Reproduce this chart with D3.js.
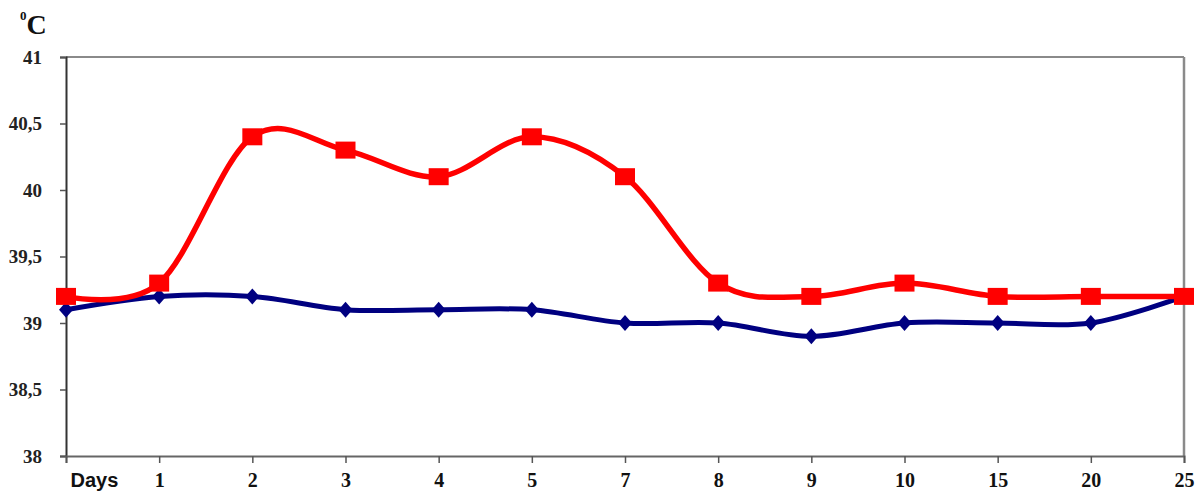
<!DOCTYPE html>
<html><head><meta charset="utf-8">
<script src="https://cdn.jsdelivr.net/npm/d3@7"></script>
<style>body{margin:0;background:#fff}svg{display:block}</style>
</head><body>
<svg id="c" width="1200" height="494"></svg>
<script>
const categories = ["Days","1","2","3","4","5","7","8","9","10","15","20","25"];
const redValues = [39.2,39.3,40.4,40.3,40.1,40.4,40.1,39.3,39.2,39.3,39.2,39.2,39.2];
const blueValues = [39.1,39.2,39.2,39.1,39.1,39.1,39.0,39.0,38.9,39.0,39.0,39.0,39.2];
const yTicks = [38,38.5,39,39.5,40,40.5,41];
const yTickLabels = ["38","38,5","39","39,5","40","40,5","41"];

const svg = d3.select("#c");
const L=66,R=1184,T=57,B=456;
const x = d3.scalePoint().domain(categories).range([L,R]).padding(0);
const y = d3.scaleLinear().domain([38,41]).range([B,T]);

// frame
svg.append("line").attr("x1",L).attr("x2",R).attr("y1",T).attr("y2",T).attr("stroke","#8a8a8a").attr("stroke-width",2);
svg.append("line").attr("x1",R).attr("x2",R).attr("y1",T).attr("y2",B).attr("stroke","#8a8a8a").attr("stroke-width",2.5);

// y axis
const ya = svg.append("g").attr("transform",`translate(${L},0)`)
  .call(d3.axisLeft(y).tickValues(yTicks).tickFormat((d,i)=>yTickLabels[i]).tickSize(6).tickPadding(18));
ya.select(".domain").attr("stroke","#333").attr("stroke-width",2);
ya.selectAll(".tick line").attr("stroke","#555").attr("stroke-width",1.5);
ya.selectAll("text").attr("font-family","Liberation Serif, Times New Roman, serif").attr("font-weight","bold").attr("font-size",19).attr("fill","#222");

// x axis
const xa = svg.append("g").attr("transform",`translate(0,${B})`)
  .call(d3.axisBottom(x).tickSize(7).tickPadding(10));
xa.select(".domain").attr("stroke","#666").attr("stroke-width",2);
xa.selectAll(".tick line").attr("stroke","#555").attr("stroke-width",1.5);
xa.selectAll("text").attr("font-family","Liberation Serif, Times New Roman, serif").attr("font-weight","bold").attr("font-size",20).attr("fill","#111");
xa.selectAll(".tick").filter(d=>d==="Days").select("text")
  .attr("font-family","Liberation Sans, Arial, sans-serif").attr("text-anchor","start").attr("x",4).attr("font-size",20);

// unit label
const u = svg.append("text").attr("x",20).attr("y",34).attr("font-family","Liberation Serif, Times New Roman, serif").attr("font-weight","bold").attr("fill","#111");
u.append("tspan").attr("font-size",13).attr("dy",-14).text("0");
u.append("tspan").attr("font-size",28).attr("dy",14).text("C");

const line = d3.line().x((d,i)=>x(categories[i])).y(d=>y(d)).curve(d3.curveCardinal.tension(0));

svg.append("path").datum(blueValues).attr("d",line).attr("fill","none").attr("stroke","#000080").attr("stroke-width",5);
svg.append("path").datum(redValues).attr("d",line).attr("fill","none").attr("stroke","#ff0000").attr("stroke-width",5.5);

svg.selectAll(".dia").data(blueValues).join("path")
  .attr("transform",(d,i)=>`translate(${x(categories[i])},${y(d)})`)
  .attr("d","M0,-8L7,0L0,8L-7,0Z").attr("fill","#000080");
svg.selectAll(".sq").data(redValues).join("rect")
  .attr("x",(d,i)=>x(categories[i])-10).attr("y",d=>y(d)-8.5).attr("width",20).attr("height",17).attr("fill","#ff0000");
</script>
</body></html>
